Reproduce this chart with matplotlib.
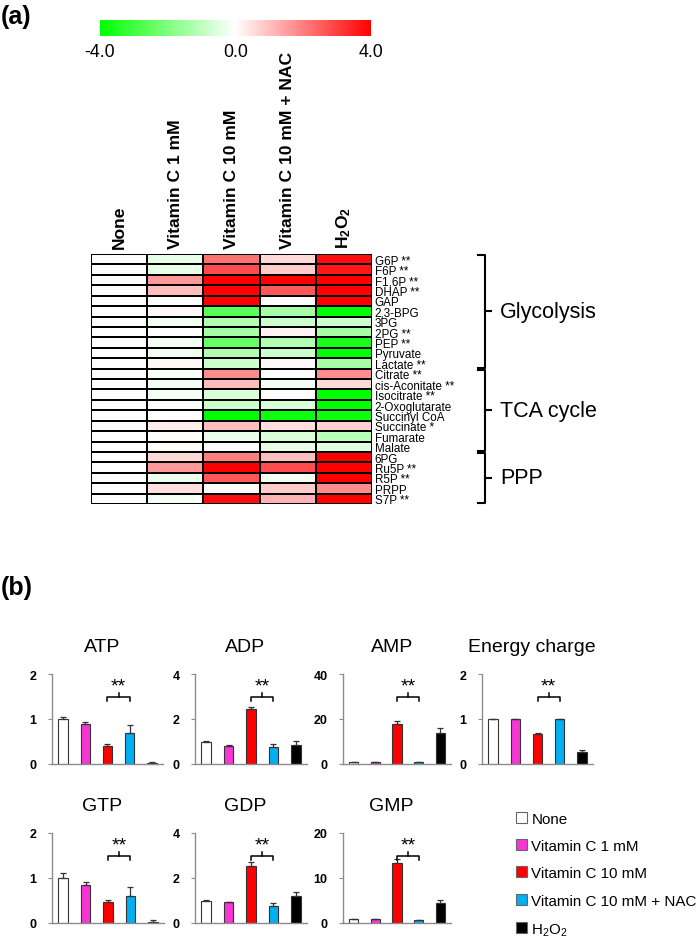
"""Heatmap of metabolite changes and nucleotide bar charts."""
import matplotlib
matplotlib.use("Agg")
import matplotlib.pyplot as plt
import numpy as np
from matplotlib.colors import LinearSegmentedColormap, Normalize
from matplotlib.cm import ScalarMappable
from matplotlib.patches import Patch

plt.rcParams['font.family'] = ['Liberation Sans', 'DejaVu Sans']
plt.rcParams['mathtext.fontset'] = 'custom'
plt.rcParams['mathtext.rm'] = 'Liberation Sans'
plt.rcParams['mathtext.bf'] = 'Liberation Sans:bold'

# ---- data: heatmap (log2 fold change vs None) ----
conditions = ["None", "Vitamin C 1 mM", "Vitamin C 10 mM",
              "Vitamin C 10 mM + NAC", r"$\mathbf{H_2O_2}$"]
metabolites = ["G6P **", "F6P **", "F1,6P **", "DHAP **", "GAP", "2,3-BPG",
               "3PG", "2PG **", "PEP **", "Pyruvate", "Lactate **",
               "Citrate **", "cis-Aconitate **", "Isocitrate **",
               "2-Oxoglutarate", "Succinyl CoA", "Succinate *", "Fumarate",
               "Malate", "6PG", "Ru5P **", "R5P **", "PRPP", "S7P **"]
heat = [
    [0, -0.4, 2.2, 0.6, 3.8],
    [0, -0.4, 2.8, 0.8, 3.6],
    [0, 1.6, 4.0, 4.0, 4.0],
    [0, 1.0, 4.0, 2.6, 4.0],
    [0, 0.0, 4.0, 0.0, 4.0],
    [0, 0.1, -2.6, -1.4, -4.0],
    [0, -0.2, -1.2, -0.8, -0.8],
    [0, 0.0, -1.4, 0.2, -1.4],
    [0, -0.2, -2.4, -1.2, -3.6],
    [0, -0.2, -1.2, -0.8, -4.0],
    [0, 0.1, -0.8, 0.1, -1.4],
    [0, -0.1, 1.8, 0.0, 1.8],
    [0, -0.2, 1.0, -0.2, 0.6],
    [0, -0.2, -0.6, 0.0, -4.0],
    [0, 0.0, -0.8, -0.6, -4.0],
    [0, 0.0, -4.0, -3.8, -3.8],
    [0, 0.3, 1.0, 0.5, 0.7],
    [0, 0.05, -0.3, -0.6, -1.1],
    [0, 0.05, 0.0, -0.4, -0.5],
    [0, 0.6, 2.0, 1.0, 4.0],
    [0, 1.6, 4.0, 2.8, 4.0],
    [0, -0.3, 2.6, -0.2, 4.0],
    [0, 0.5, 0.05, 0.8, 1.8],
    [0, -0.1, 3.8, 1.2, 4.0],
]
pathways = ["Glycolysis", "TCA cycle", "PPP"]
pathway_sizes = [11, 8, 5]

# ---- data: bar charts (relative amounts, mean and SD) ----
bar_labels = ["None", "Vitamin C 1 mM", "Vitamin C 10 mM",
              "Vitamin C 10 mM + NAC", r"H$_2$O$_2$"]
bar_colors = ["white", "#F736D6", "#FF0000", "#00B0F0", "black"]
panels = ["ATP", "ADP", "AMP", "Energy charge", "GTP", "GDP", "GMP"]
ymaxes = [2, 4, 40, 2, 2, 4, 20]
means = [
    [1.00, 0.88, 0.40, 0.70, 0.02],
    [1.00, 0.82, 2.45, 0.75, 0.85],
    [1.00, 0.80, 18.0, 0.90, 14.0],
    [1.00, 1.00, 0.67, 0.99, 0.27],
    [1.00, 0.84, 0.46, 0.60, 0.03],
    [1.00, 0.92, 2.55, 0.77, 1.20],
    [0.90, 0.80, 13.3, 0.60, 4.40],
]
sds = [
    [0.05, 0.06, 0.05, 0.17, 0.02],
    [0.03, 0.03, 0.07, 0.12, 0.17],
    [0.10, 0.10, 1.20, 0.10, 2.00],
    [0.01, 0.01, 0.02, 0.01, 0.04],
    [0.12, 0.07, 0.06, 0.19, 0.03],
    [0.02, 0.03, 0.17, 0.10, 0.18],
    [0.10, 0.10, 0.90, 0.10, 0.80],
]
sig_pair = (2, 3)

W, H = 697, 937
fig = plt.figure(figsize=(W / 100, H / 100), dpi=100)


def add_ax(x0, y0, x1, y1):
    # axes from pixel box (top-left origin)
    return fig.add_axes([x0 / W, 1 - y1 / H, (x1 - x0) / W, (y1 - y0) / H])


fig.text(1 / W, 1 - 17 / H, "(a)", fontsize=18, fontweight='bold',
         va='center', ha='left')
fig.text(1 / W, 1 - 588 / H, "(b)", fontsize=18, fontweight='bold',
         va='center', ha='left')

# ---- heatmap ----
cmap = LinearSegmentedColormap.from_list("gwr", ["#00FF00", "white", "#FF0000"])
norm = Normalize(-4, 4)
hm = add_ax(91, 255, 372, 505)
data = np.array(heat)
hm.pcolormesh(np.arange(len(conditions) + 1) - 0.5,
              np.arange(len(metabolites) + 1) - 0.5, data,
              cmap=cmap, norm=norm, edgecolors='black', linewidth=1.3)
hm.set_xlim(-0.5, len(conditions) - 0.5)
hm.set_ylim(len(metabolites) - 0.5, -0.5)
for s in hm.spines.values():
    s.set_visible(False)
hm.xaxis.tick_top()
hm.set_xticks(range(len(conditions)))
hm.set_xticklabels(conditions, rotation=90, fontsize=12.6, fontweight='bold')
hm.yaxis.tick_right()
hm.set_yticks(range(len(metabolites)))
hm.set_yticklabels(metabolites, fontsize=8.4)
hm.tick_params(length=0, pad=2)
hm.tick_params(axis='x', pad=4)

# pathway braces
tr = hm.get_yaxis_transform()
start = 0
for name, n in zip(pathways, pathway_sizes):
    y0, y1 = start - 0.5, start + n - 0.5
    ym = (y0 + y1) / 2
    xb = 1.402
    hm.plot([1.377, xb, xb, 1.377], [y0 + 0.1, y0 + 0.1, y1 - 0.1, y1 - 0.1],
            color='black', lw=1.5, transform=tr, clip_on=False)
    hm.plot([xb, 1.423], [ym, ym], color='black', lw=1.5, transform=tr,
            clip_on=False)
    hm.text(1.455, ym, name, transform=tr, fontsize=15.5, va='center',
            ha='left')
    start += n

# colour bar
cax = add_ax(100, 21, 371, 37)
cb = fig.colorbar(ScalarMappable(norm=norm, cmap=cmap), cax=cax,
                  orientation='horizontal', ticks=[-4, 0, 4], format="%.1f")
cb.outline.set_visible(False)
cax.tick_params(length=0, labelsize=12.8, pad=5)

# ---- bar charts ----
boxes = [(52, 675, 163, 765), (195, 675, 307, 765), (343, 675, 451, 765),
         (482, 675, 593, 765), (52, 834, 164, 924), (195, 834, 307, 924),
         (343, 834, 451, 924)]
x = np.arange(len(bar_labels))
for title, ymax, m, sd, box in zip(panels, ymaxes, means, sds, boxes):
    ax = add_ax(*box)
    ax.bar(x, m, width=0.42, color=bar_colors, edgecolor='#333333',
           linewidth=0.8, yerr=[np.zeros(len(sd)), sd],
           error_kw=dict(ecolor='#333333', elinewidth=0.9, capsize=2.5,
                         capthick=0.9))
    ax.set_xlim(-0.5, len(x) - 0.5)
    ax.set_ylim(0, ymax)
    ax.set_yticks([0, ymax / 2, ymax])
    ax.set_yticklabels(["0", f"{ymax // 2:g}", f"{ymax:g}"], fontsize=9,
                       fontweight='bold')
    ax.set_xticks([])
    for side in ('top', 'right'):
        ax.spines[side].set_visible(False)
    for side in ('left', 'bottom'):
        ax.spines[side].set_color('#8c8c8c')
        ax.spines[side].set_linewidth(1.0)
    ax.tick_params(axis='y', length=3, color='#8c8c8c', pad=8)
    ax.text(0.45, 1.31, title, transform=ax.transAxes, fontsize=14,
            ha='center', va='center')
    # significance bracket
    a, b = sig_pair
    ax.plot([a, a, b, b], [0.70 * ymax, 0.745 * ymax, 0.745 * ymax,
                           0.70 * ymax], color='black', lw=1.1,
            clip_on=False)
    ax.plot([(a + b) / 2] * 2, [0.745 * ymax, 0.79 * ymax], color='black',
            lw=1.1, clip_on=False)
    ax.text((a + b) / 2, 0.87 * ymax, "**", ha='center', va='center',
            fontsize=14, clip_on=False)

handles = [Patch(facecolor=c, edgecolor='#666666', linewidth=0.8)
           for c in bar_colors]
fig.legend(handles, bar_labels, loc='upper left',
           bbox_to_anchor=(508 / W, 1 - 805 / H), frameon=False,
           fontsize=10.9, handlelength=0.75, handleheight=0.75,
           handletextpad=0.3, labelspacing=0.88, borderpad=0)

fig.savefig("out.png", dpi=100)
